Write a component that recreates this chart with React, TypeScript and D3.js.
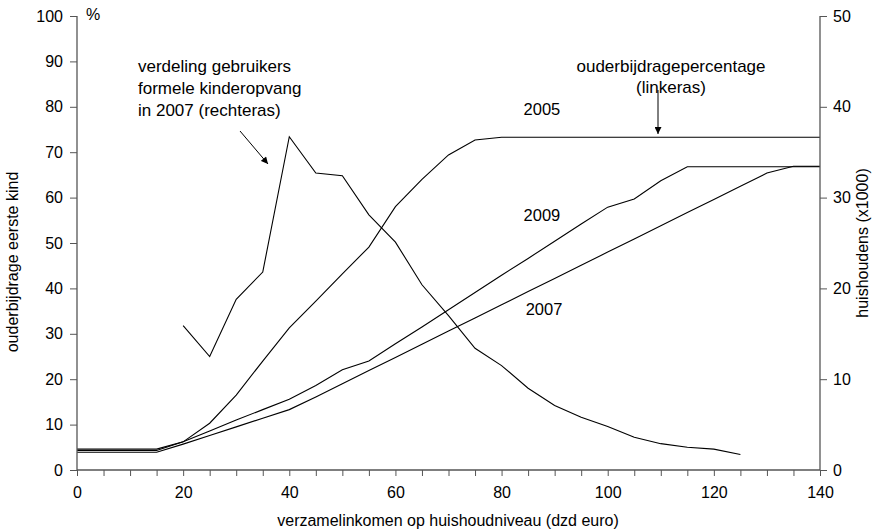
import React, { useEffect, useRef } from "react";
import * as d3 from "d3";

// inkomen (dzd euro), stappen van 5
const incomes = [0, 5, 10, 15, 20, 25, 30, 35, 40, 45, 50, 55, 60, 65, 70, 75, 80, 85, 90, 95, 100, 105, 110, 115, 120, 125, 130, 135, 140];

// ouderbijdragepercentage (linkeras)
const pct2005 = [4.6, 4.6, 4.6, 4.6, 6.2, 10.3, 16.5, 24.0, 31.3, 37.2, 43.2, 49.1, 58.0, 64.0, 69.4, 72.7, 73.3, 73.3, 73.3, 73.3, 73.3, 73.3, 73.3, 73.3, 73.3, 73.3, 73.3, 73.3, 73.3];
const pct2007 = [3.9, 3.9, 3.9, 3.9, 5.7, 7.6, 9.5, 11.4, 13.3, 16.1, 19.0, 21.9, 24.8, 27.7, 30.6, 33.5, 36.4, 39.3, 42.2, 45.1, 48.0, 50.9, 53.8, 56.7, 59.6, 62.5, 65.4, 66.9, 66.9];
const pct2009 = [4.3, 4.3, 4.3, 4.3, 6.2, 8.6, 11.0, 13.3, 15.6, 18.6, 22.1, 24.0, 27.8, 31.5, 35.3, 39.1, 42.9, 46.6, 50.4, 54.2, 57.9, 59.7, 63.7, 66.8, 66.8, 66.8, 66.8, 66.8, 66.8];

// verdeling gebruikers formele kinderopvang 2007 (rechteras, x1000)
const userIncomes = [20, 25, 30, 35, 40, 45, 50, 55, 60, 65, 70, 75, 80, 85, 90, 95, 100, 105, 110, 115, 120, 125];
const users2007 = [15.9, 12.5, 18.8, 21.8, 36.7, 32.7, 32.4, 28.1, 25.1, 20.4, 17.0, 13.4, 11.5, 9.0, 7.1, 5.8, 4.8, 3.6, 2.9, 2.5, 2.3, 1.7];

const xTicks = [0, 20, 40, 60, 80, 100, 120, 140];
const leftTicks = [0, 10, 20, 30, 40, 50, 60, 70, 80, 90, 100];
const rightTicks = [0, 10, 20, 30, 40, 50];

const seriesLabels = [
  { text: "2005", x: 87.6, y: 79.5 },
  { text: "2009", x: 87.6, y: 56.2 },
  { text: "2007", x: 88, y: 35.5 },
];

export default function App() {
  const svgRef = useRef<SVGSVGElement>(null);

  useEffect(() => {
    if (!svgRef.current) return;
    const svg = d3.select(svgRef.current);
    svg.selectAll("*").remove();

    const width = 880;
    const height = 530;
    const left = 77;
    const right = 820;
    const top = 16;
    const bottom = 470;
    const font = "'Liberation Sans', Arial, Helvetica, sans-serif";
    const axisColor = "#555";

    svg.attr("width", width).attr("height", height).attr("viewBox", `0 0 ${width} ${height}`);

    const x = d3.scaleLinear().domain([0, 140]).range([left, right]);
    const yL = d3.scaleLinear().domain([0, 100]).range([bottom, top]);
    const yR = d3.scaleLinear().domain([0, 50]).range([bottom, top]);

    svg
      .append("defs")
      .append("marker")
      .attr("id", "arrow")
      .attr("viewBox", "0 0 10 10")
      .attr("refX", 10)
      .attr("refY", 5)
      .attr("markerWidth", 8)
      .attr("markerHeight", 7)
      .attr("markerUnits", "userSpaceOnUse")
      .attr("orient", "auto")
      .append("path")
      .attr("d", "M0,0 L10,5 L0,10 z")
      .style("fill", "#000");

    // lines
    const pctLine = d3
      .line<number>()
      .x((_, i) => x(incomes[i]))
      .y((d) => yL(d));

    [pct2005, pct2009, pct2007].forEach((s) => {
      svg
        .append("path")
        .datum(s)
        .attr("d", pctLine)
        .style("fill", "none")
        .style("stroke", "#000")
        .style("stroke-width", 1.1);
    });

    const userLine = d3
      .line<number>()
      .x((_, i) => x(userIncomes[i]))
      .y((d) => yR(d));

    svg
      .append("path")
      .datum(users2007)
      .attr("d", userLine)
      .style("fill", "none")
      .style("stroke", "#000")
      .style("stroke-width", 1.1);

    // axes
    const xAxis = d3
      .axisBottom(x)
      .tickValues(d3.range(0, 141, 5))
      .tickSize(6)
      .tickFormat((d) => (xTicks.includes(d as number) ? String(d) : ""));
    const gx = svg.append("g").attr("transform", `translate(0,${bottom})`).call(xAxis);

    const gl = svg
      .append("g")
      .attr("transform", `translate(${left},0)`)
      .call(d3.axisLeft(yL).tickValues(leftTicks).tickSize(7).tickPadding(7).tickFormat(d3.format("d")));

    const gr = svg
      .append("g")
      .attr("transform", `translate(${right},0)`)
      .call(d3.axisRight(yR).tickValues(rightTicks).tickSize(7).tickPadding(6).tickFormat(d3.format("d")));

    [gx, gl, gr].forEach((g) => {
      g.selectAll(".domain").style("stroke", axisColor).style("stroke-width", 1.3);
      g.selectAll(".tick line").style("stroke", axisColor);
      g.selectAll("text").style("font-family", font).style("font-size", "16px").style("fill", "#000");
    });
    gx.selectAll(".domain").attr("d", `M${left},0H${right}`);
    gl.selectAll(".domain").attr("d", `M0,${top}V${bottom}`);
    gr.selectAll(".domain").attr("d", `M0,${top}V${bottom}`);
    gx.selectAll("text").attr("y", 17).attr("dy", "0.71em");

    // axis titles
    svg
      .append("text")
      .attr("x", 448)
      .attr("y", 526)
      .attr("text-anchor", "middle")
      .style("font-family", font)
      .style("font-size", "16px")
      .text("verzamelinkomen op huishoudniveau (dzd euro)");

    svg
      .append("text")
      .attr("transform", `translate(18,262) rotate(-90)`)
      .attr("text-anchor", "middle")
      .style("font-family", font)
      .style("font-size", "16px")
      .text("ouderbijdrage eerste kind");

    svg
      .append("text")
      .attr("transform", `translate(868,243) rotate(-90)`)
      .attr("text-anchor", "middle")
      .style("font-family", font)
      .style("font-size", "16px")
      .text("huishoudens (x1000)");

    svg
      .append("text")
      .attr("x", 86)
      .attr("y", 20)
      .style("font-family", font)
      .style("font-size", "16px")
      .text("%");

    // annotations
    const note = svg
      .append("text")
      .attr("x", 138)
      .attr("y", 72)
      .style("font-family", font)
      .style("font-size", "17px");
    ["verdeling gebruikers", "formele kinderopvang", "in 2007 (rechteras)"].forEach((t, i) => {
      note.append("tspan").attr("x", 138).attr("dy", i === 0 ? 0 : 22).text(t);
    });

    svg
      .append("line")
      .attr("x1", 240)
      .attr("y1", 131)
      .attr("x2", 268)
      .attr("y2", 164)
      .style("stroke", "#000")
      .attr("marker-end", "url(#arrow)");

    const note2 = svg
      .append("text")
      .attr("x", 671)
      .attr("y", 72)
      .attr("text-anchor", "middle")
      .style("font-family", font)
      .style("font-size", "17px");
    ["ouderbijdragepercentage", "(linkeras)"].forEach((t, i) => {
      note2.append("tspan").attr("x", 671).attr("dy", i === 0 ? 0 : 21).text(t);
    });

    svg
      .append("line")
      .attr("x1", 658)
      .attr("y1", 90)
      .attr("x2", 658)
      .attr("y2", 134)
      .style("stroke", "#000")
      .attr("marker-end", "url(#arrow)");

    seriesLabels.forEach((l) => {
      svg
        .append("text")
        .attr("x", x(l.x))
        .attr("y", yL(l.y))
        .attr("text-anchor", "middle")
        .attr("dy", "0.35em")
        .style("font-family", font)
        .style("font-size", "16.5px")
        .text(l.text);
    });
  }, []);

  return <svg ref={svgRef} style={{ position: "absolute", left: 0, top: 0 }} />;
}
